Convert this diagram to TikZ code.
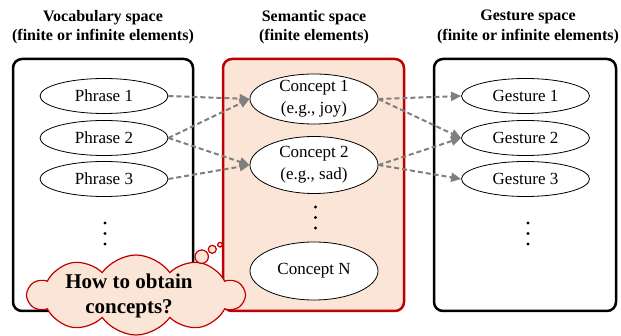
\documentclass[tikz,border=0pt]{standalone}
\usepackage{fontspec}
\setmainfont{Liberation Serif}
\usetikzlibrary{arrows.meta,shapes.symbols,shapes.geometric}
\definecolor{boxred}{HTML}{C00000}
\definecolor{peach}{HTML}{FBE5D6}
\definecolor{arrowgray}{HTML}{7F7F7F}
\begin{document}
\begin{tikzpicture}[x=1pt,y=-1pt,
  spacebox/.style={line width=2.5pt, rounded corners=9pt},
  heading/.style={align=center, font=\bfseries\fontsize{16}{19.5}\selectfont, inner sep=0pt},
  item/.style={ellipse, draw, line width=0.8pt, fill=white, minimum width=128pt, minimum height=35pt, inner sep=0pt, font=\fontsize{17}{22}\selectfont, align=center},
  conn/.style={draw=arrowgray, line width=2pt, dash pattern=on 5pt off 3pt, -{Triangle[length=10pt,width=9pt]}},
  dotmark/.style={fill=black, draw=none},
  bubble/.style={draw=boxred, fill=peach, line width=1.2pt}
]
\useasboundingbox (0,0) rectangle (621,336);

% headings
\node[heading] (hv) at (103,27) {Vocabulary space\\(finite or infinite elements)};
\node[heading] (hs) at (314,27) {Semantic space\\(finite elements)};
\node[heading] (hg) at (528,27) {Gesture space\\(finite or infinite elements)};

% space boxes
\draw[spacebox, draw=black, fill=white] (13,59) rectangle (193,311);
\draw[spacebox, draw=boxred, fill=peach] (223,59) rectangle (404,311);
\draw[spacebox, draw=black, fill=white] (434,59) rectangle (616,311);

% vocabulary items
\node[item] (p1) at (104,96) {Phrase 1};
\node[item] (p2) at (104,138) {Phrase 2};
\node[item] (p3) at (104,179) {Phrase 3};

% concepts
\node[item, minimum height=50pt, inner ysep=-5pt] (c1) at (314,99) {Concept 1\\(e.g., joy)};
\node[item, minimum height=57pt, inner ysep=-5pt] (c2) at (314,165) {Concept 2\\(e.g., sad)};
\node[item, minimum height=58pt] (cn) at (314,271) {Concept N};

% gestures
\node[item] (g1) at (525.5,96) {Gesture 1};
\node[item] (g2) at (525.5,138) {Gesture 2};
\node[item] (g3) at (525.5,179) {Gesture 3};

% dots
\foreach \yy in {223,233.5,244} \fill[dotmark] (105,\yy) circle (1.6);
\foreach \yy in {207,217.5,228} \fill[dotmark] (315.5,\yy) circle (1.6);
\foreach \yy in {223,233.5,244} \fill[dotmark] (528,\yy) circle (1.6);

% connectors
\draw[conn] (p1.east) -- (c1.west);
\draw[conn] (p2.east) -- (c1.west);
\draw[conn] (p2.east) -- (c2.west);
\draw[conn] (p3.east) -- (c2.west);
\draw[conn] (c1.east) -- (g1.west);
\draw[conn] (c1.east) -- (g2.west);
\draw[conn] (c2.east) -- (g2.west);
\draw[conn] (c2.east) -- (g3.west);

% thought cloud
\node[cloud, cloud puffs=10, cloud puff arc=110, cloud ignores aspect,
      draw=boxred, fill=peach, line width=1.2pt, minimum width=216pt, minimum height=80pt,
      inner sep=0pt] (q) at (136,295) {};
\node[align=center, inner sep=0pt, font=\bfseries\fontsize{21}{25}\selectfont] (qt) at (129,296)
      {How to obtain\\concepts?};
\draw[bubble] (201.7,256.7) circle (6.7);
\draw[bubble] (212.3,249.3) circle (4);
\draw[bubble] (220,244.7) circle (2.3);
\end{tikzpicture}
\end{document}
